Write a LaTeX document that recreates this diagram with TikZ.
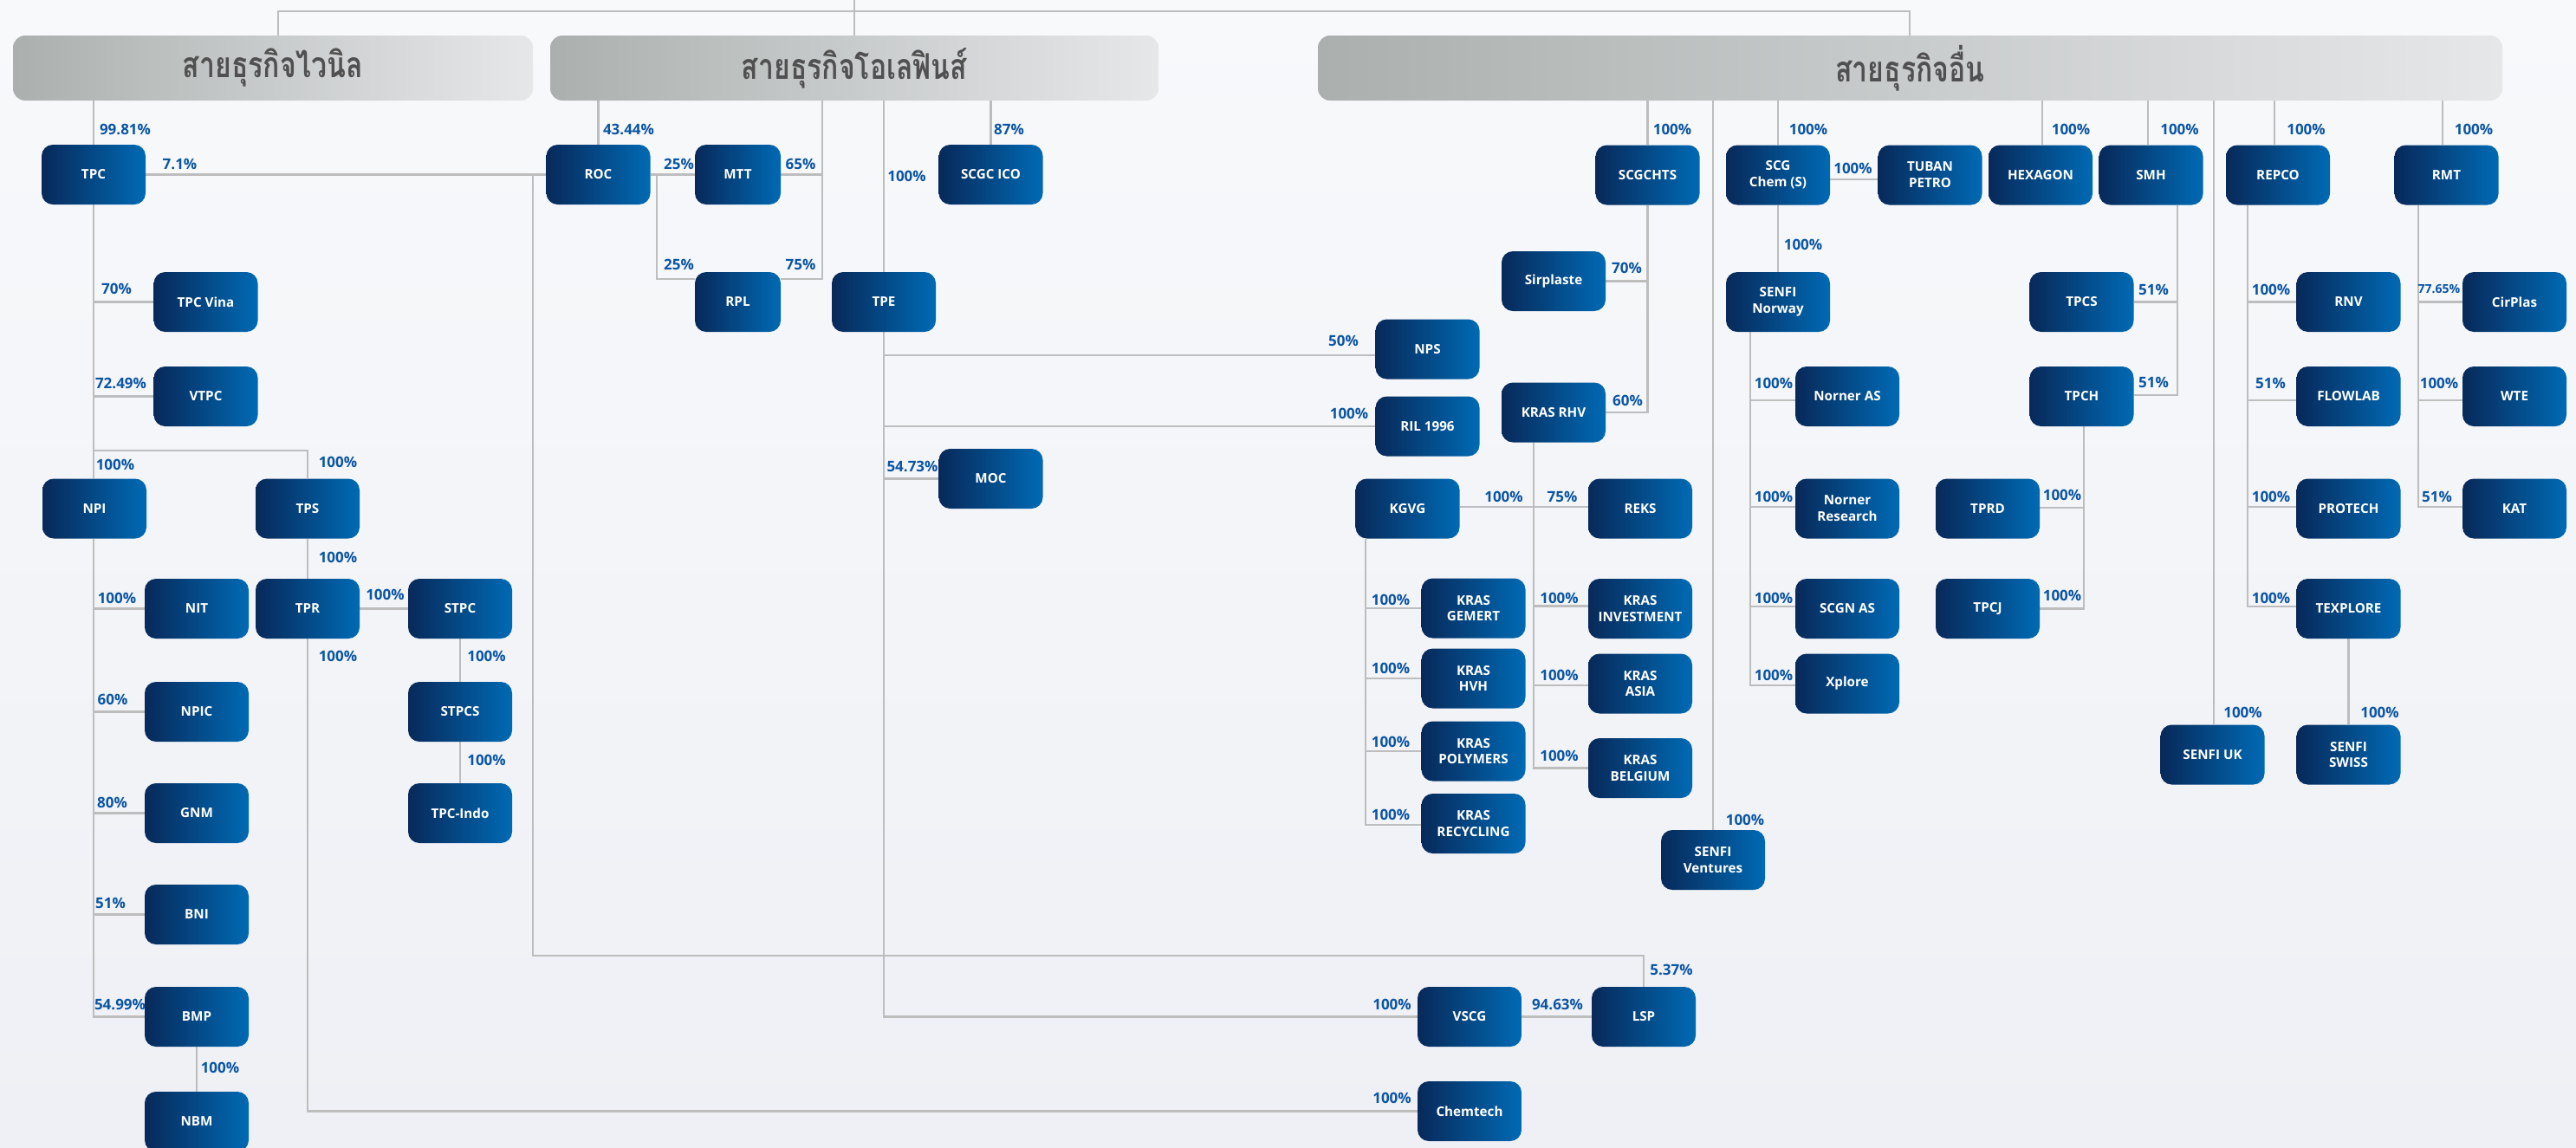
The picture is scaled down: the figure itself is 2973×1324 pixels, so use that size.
\documentclass[tikz,border=0pt]{standalone}
\usepackage{fontspec}
\setmainfont{Open Sans}
\newfontfamily\thaifont[Script=Thai,FakeStretch=0.78]{Loma}
\usetikzlibrary{calc}
\definecolor{boxL}{HTML}{08295A}
\definecolor{boxR}{HTML}{006AB4}
\definecolor{pctC}{HTML}{0B55A3}
\definecolor{lnC}{HTML}{BDBDBD}
\definecolor{hdrL}{HTML}{ABB0AE}
\definecolor{hdrR}{HTML}{E6E7E9}
\definecolor{hdrT}{HTML}{505050}
\definecolor{bgT}{HTML}{F8F9FB}
\definecolor{bgB}{HTML}{EEF0F5}
\pgfdeclarelayer{back}\pgfdeclarelayer{bg}\pgfsetlayers{back,bg,main}
\tikzset{
  cbox/.style={rounded corners=6.5pt, minimum width=60pt, minimum height=34.5pt, inner sep=0pt,
    left color=boxL, right color=boxR, draw=none, text=white, align=center,
    font=\bfseries\fontsize{7.6}{9.4}\selectfont},
  nbox/.style={cbox, minimum width=49.5pt},
  pct/.style={text=pctC, font=\bfseries\fontsize{8.5}{10}\selectfont, inner sep=0pt},
  pcts/.style={pct, font=\bfseries\fontsize{7}{8}\selectfont},
  ln/.style={draw=lnC, line width=1.1pt},
  hdr/.style={rounded corners=7pt, minimum height=37.5pt, inner sep=0pt, draw=none,
    left color=hdrL, right color=hdrR, text=hdrT,
    font=\thaifont\bfseries\fontsize{20.5}{24}\selectfont}
}
\begin{document}
\begin{tikzpicture}[x=0.5pt,y=-0.5pt]
\useasboundingbox (0,0) rectangle (2973,1324);
\begin{pgfonlayer}{back}
\fill[top color=bgT, bottom color=bgB] (0,0) rectangle (2973,1324);
\end{pgfonlayer}

% headers
\node[hdr, minimum width=300pt] (h1) at (315,78.5) {สายธุรกิจไวนิล};
\node[hdr, minimum width=351pt] (h2) at (986,78.5) {สายธุรกิจโอเลฟินส์};
\node[hdr, minimum width=683.5pt] (h3) at (2204.5,78.5) {สายธุรกิจอื่น};

% vinyl
\node[cbox] (tpc) at (108,201.5) {TPC};
\node[cbox] (tpcvina) at (237.5,348.5) {TPC Vina};
\node[cbox] (vtpc) at (237.5,457.5) {VTPC};
\node[cbox] (npi) at (109,587) {NPI};
\node[cbox] (tps) at (355,587) {TPS};
\node[cbox] (nit) at (227,702.5) {NIT};
\node[cbox] (tpr) at (355,702.5) {TPR};
\node[cbox] (stpc) at (531,702.5) {STPC};
\node[cbox] (npic) at (227,821.5) {NPIC};
\node[cbox] (stpcs) at (531,821.5) {STPCS};
\node[cbox] (gnm) at (227,938.5) {GNM};
\node[cbox] (tpcindo) at (531,938.5) {TPC-Indo};
\node[cbox] (bni) at (227,1055.5) {BNI};
\node[cbox] (bmp) at (227,1173.5) {BMP};
\node[cbox] (nbm) at (227,1294.5) {NBM};

% olefins
\node[cbox] (roc) at (690.5,201.5) {ROC};
\node[nbox] (mtt) at (851.5,201.5) {MTT};
\node[nbox] (rpl) at (851.5,348.5) {RPL};
\node[cbox] (scgcico) at (1143.5,201.5) {SCGC ICO};
\node[cbox] (tpe) at (1020,348.5) {TPE};
\node[cbox] (moc) at (1143.5,552.5) {MOC};
\node[cbox] (nps) at (1647.5,403) {NPS};
\node[cbox] (ril) at (1647.5,492) {RIL 1996};
\node[cbox] (vscg) at (1696,1173.5) {VSCG};
\node[cbox] (lsp) at (1897,1173.5) {LSP};
\node[cbox] (chemtech) at (1696,1282.5) {Chemtech};

% others
\node[cbox] (scgchts) at (1901.5,202) {SCGCHTS};
\node[cbox] (sirplaste) at (1793,324.5) {Sirplaste};
\node[cbox] (krasrhv) at (1793,476) {KRAS RHV};
\node[cbox] (kgvg) at (1624.5,587) {KGVG};
\node[cbox] (reks) at (1893,587) {REKS};
\node[cbox] (gemert) at (1700.5,702) {KRAS\\GEMERT};
\node[cbox] (investment) at (1893,702.5) {KRAS\\INVESTMENT};
\node[cbox] (hvh) at (1700.5,783) {KRAS\\HVH};
\node[cbox] (asia) at (1893,789) {KRAS\\ASIA};
\node[cbox] (polymers) at (1700.5,867) {KRAS\\POLYMERS};
\node[cbox] (belgium) at (1893,886.5) {KRAS\\BELGIUM};
\node[cbox] (recycling) at (1700.5,950.5) {KRAS\\RECYCLING};
\node[cbox] (ventures) at (1977,992.5) {SENFI\\Ventures};
\node[cbox] (scgchem) at (2052,202) {SCG\\Chem (S)};
\node[cbox] (tuban) at (2227.5,202) {TUBAN\\PETRO};
\node[cbox] (hexagon) at (2355,202) {HEXAGON};
\node[cbox] (smh) at (2482.5,202) {SMH};
\node[cbox] (repco) at (2629,202) {REPCO};
\node[cbox] (rmt) at (2823.5,202) {RMT};
\node[cbox] (senfinorway) at (2052,348.5) {SENFI\\Norway};
\node[cbox] (tpcs) at (2402.5,348.5) {TPCS};
\node[cbox] (tpch) at (2402.5,457.5) {TPCH};
\node[cbox] (rnv) at (2710.5,348.5) {RNV};
\node[cbox] (cirplas) at (2902,348.5) {CirPlas};
\node[cbox] (norneras) at (2132,457.5) {Norner AS};
\node[cbox] (flowlab) at (2710.5,457.5) {FLOWLAB};
\node[cbox] (wte) at (2902,457.5) {WTE};
\node[cbox] (nornerres) at (2132,587) {Norner\\Research};
\node[cbox] (tprd) at (2294,587) {TPRD};
\node[cbox] (protech) at (2710.5,587) {PROTECH};
\node[cbox] (kat) at (2902,587) {KAT};
\node[cbox] (scgnas) at (2132,702.5) {SCGN AS};
\node[cbox] (tpcj) at (2294,702.5) {TPCJ};
\node[cbox] (texplore) at (2710.5,702.5) {TEXPLORE};
\node[cbox] (xplore) at (2132,789) {Xplore};
\node[cbox] (senfiuk) at (2553.5,871) {SENFI UK};
\node[cbox] (senfiswiss) at (2710.5,871) {SENFI\\SWISS};

% percentage labels
\node[pct] (p1) at (144.5,149) {99.81\%};
\node[pct] (p2) at (207.5,189) {7.1\%};
\node[pct] (p3) at (134.5,333.5) {70\%};
\node[pct] (p4) at (139.5,442) {72.49\%};
\node[pct] (p5) at (133,536.5) {100\%};
\node[pct] (p6) at (390,533.5) {100\%};
\node[pct] (p7) at (390,643) {100\%};
\node[pct] (p8) at (135,690) {100\%};
\node[pct] (p9) at (444.5,686) {100\%};
\node[pct] (p10) at (390,757.5) {100\%};
\node[pct] (p11) at (561.5,757.5) {100\%};
\node[pct] (p12) at (130,807) {60\%};
\node[pct] (p13) at (561.5,877.5) {100\%};
\node[pct] (p14) at (129.5,926.5) {80\%};
\node[pct] (p15) at (127.5,1042.5) {51\%};
\node[pct] (p16) at (138.5,1159.5) {54.99\%};
\node[pct] (p17) at (254,1232.5) {100\%};
\node[pct] (p18) at (725.5,149) {43.44\%};
\node[pct] (p19) at (783.5,189) {25\%};
\node[pct] (p20) at (783.5,305.5) {25\%};
\node[pct] (p21) at (924,189) {65\%};
\node[pct] (p22) at (924,305.5) {75\%};
\node[pct] (p23) at (1046.5,203) {100\%};
\node[pct] (p24) at (1164.5,149) {87\%};
\node[pct] (p25) at (1550.5,393) {50\%};
\node[pct] (p26) at (1557,477) {100\%};
\node[pct] (p27) at (1053,538) {54.73\%};
\node[pct] (p28) at (1606.5,1159.5) {100\%};
\node[pct] (p29) at (1797.5,1159.5) {94.63\%};
\node[pct] (p30) at (1929,1119.5) {5.37\%};
\node[pct] (p31) at (1606.5,1267.5) {100\%};
\node[pct] (p32) at (1930,149) {100\%};
\node[pct] (p33) at (1877.5,309.5) {70\%};
\node[pct] (p34) at (1878.5,462.5) {60\%};
\node[pct] (p35) at (1735.5,573) {100\%};
\node[pct] (p36) at (1803,573) {75\%};
\node[pct] (p37) at (1605,692) {100\%};
\node[pct] (p38) at (1799.5,690.5) {100\%};
\node[pct] (p39) at (1605,771) {100\%};
\node[pct] (p40) at (1799.5,779.5) {100\%};
\node[pct] (p41) at (1605,856) {100\%};
\node[pct] (p42) at (1799.5,872) {100\%};
\node[pct] (p43) at (1605,940.5) {100\%};
\node[pct] (p44) at (2014,946.5) {100\%};
\node[pct] (p45) at (2087,149) {100\%};
\node[pct] (p46) at (2138.5,194.5) {100\%};
\node[pct] (p47) at (2390,149) {100\%};
\node[pct] (p48) at (2515.5,149) {100\%};
\node[pct] (p49) at (2661.5,149) {100\%};
\node[pct] (p50) at (2855,149) {100\%};
\node[pct] (p51) at (2081,282.5) {100\%};
\node[pct] (p52) at (2485.5,334) {51\%};
\node[pct] (p53) at (2485.5,441) {51\%};
\node[pct] (p54) at (2621,334) {100\%};
\node[pcts] (p55) at (2815,334) {77.65\%};
\node[pct] (p56) at (2047,442) {100\%};
\node[pct] (p57) at (2620.5,442) {51\%};
\node[pct] (p58) at (2815,442) {100\%};
\node[pct] (p59) at (2047,573) {100\%};
\node[pct] (p60) at (2380,571.5) {100\%};
\node[pct] (p61) at (2621,573) {100\%};
\node[pct] (p62) at (2812.5,573) {51\%};
\node[pct] (p63) at (2047,690.5) {100\%};
\node[pct] (p64) at (2380,687) {100\%};
\node[pct] (p65) at (2621,690.5) {100\%};
\node[pct] (p66) at (2047,779.5) {100\%};
\node[pct] (p67) at (2588.5,822.5) {100\%};
\node[pct] (p68) at (2746.5,822.5) {100\%};

% connectors
\begin{pgfonlayer}{bg}
\coordinate (trunk) at (986,0);
\coordinate (topL) at (321,13);
\coordinate (topR) at (2204,13);
\draw[ln] (trunk) -- (h2.north);
\draw[ln] (h1.north -| topL) -- (topL) -- (topR) -- (h3.north -| topR);

% vinyl
\draw[ln] (tpc.north) -- (tpc.north |- h1.south);
\draw[ln] (tpc.east) -- (roc.west);
\coordinate (j615) at (615,201.5);
\coordinate (c615) at (615,1103);
\draw[ln] (j615) -- (c615) -| (lsp.north);
\draw[ln] (tpc.south) -- (tpc.south |- npi.north);
\draw[ln] (tpcvina.west) -- (tpcvina.west -| tpc.south);
\draw[ln] (vtpc.west) -- (vtpc.west -| tpc.south);
\coordinate (jtps) at (108,520);
\draw[ln] (jtps) -| (tps.north);
\draw[ln] (npi.south -| tpc.south) |- (bmp.west);
\draw[ln] (nit.west) -- (nit.west -| tpc.south);
\draw[ln] (npic.west) -- (npic.west -| tpc.south);
\draw[ln] (gnm.west) -- (gnm.west -| tpc.south);
\draw[ln] (bni.west) -- (bni.west -| tpc.south);
\draw[ln] (tps.south) -- (tpr.north);
\draw[ln] (tpr.east) -- (stpc.west);
\draw[ln] (tpr.south) |- (chemtech.west);
\draw[ln] (stpc.south) -- (stpcs.north);
\draw[ln] (stpcs.south) -- (tpcindo.north);
\draw[ln] (bmp.south) -- (nbm.north);

% olefins
\draw[ln] (roc.north) -- (roc.north |- h2.south);
\draw[ln] (roc.east) -- (mtt.west);
\coordinate (j758) at (758,201.5);
\coordinate (rplL) at ($(rpl.north west)+(0,8)$);
\draw[ln] (j758) |- (rplL);
\coordinate (j949) at (949,116);
\coordinate (rplR) at ($(rpl.north east)+(0,8)$);
\draw[ln] (j949) |- (rplR);
\draw[ln] (mtt.east) -- (mtt.east -| j949);
\coordinate (t1020) at (1020,116);
\draw[ln] (t1020) -- (tpe.north);
\draw[ln] (tpe.south) |- (vscg.west);
\coordinate (npsA) at ($(nps.west)+(0,7)$);
\draw[ln] (npsA) -- (npsA -| tpe.south);
\draw[ln] (ril.west) -- (ril.west -| tpe.south);
\draw[ln] (moc.west) -- (moc.west -| tpe.south);
\draw[ln] (scgcico.north) -- (scgcico.north |- h2.south);
\draw[ln] (vscg.east) -- (lsp.west);

% others
\draw[ln] (scgchts.north) -- (scgchts.north |- h3.south);
\draw[ln] (scgchts.south) |- (krasrhv.east);
\draw[ln] (sirplaste.east) -- (sirplaste.east -| scgchts.south);
\coordinate (rhvB) at ($(krasrhv.south)+(-23,0)$);
\draw[ln] (rhvB) |- (belgium.west);
\draw[ln] ($(investment.west)+(0,-3)$) -- ($(investment.west -| rhvB)+(0,-3)$);
\draw[ln] ($(asia.west)+(0,2)$) -- ($(asia.west -| rhvB)+(0,2)$);
\draw[ln] ($(kgvg.east)+(0,-2)$) -- ($(reks.west)+(0,-2)$);
\coordinate (kgB) at ($(kgvg.south)+(-48.5,0)$);
\draw[ln] (kgB) |- ($(recycling.west)+(0,1.5)$);
\draw[ln] (gemert.west) -- (gemert.west -| kgB);
\draw[ln] (hvh.west) -- (hvh.west -| kgB);
\draw[ln] (polymers.west) -- (polymers.west -| kgB);
\draw[ln] (ventures.north) -- (ventures.north |- h3.south);
\draw[ln] (scgchem.north) -- (scgchem.north |- h3.south);
\draw[ln] ($(scgchem.east)+(0,5)$) -- ($(tuban.west)+(0,5)$);
\draw[ln] (scgchem.south) -- (senfinorway.north);
\coordinate (snB) at ($(senfinorway.south)+(-32,0)$);
\draw[ln] (snB) |- ($(xplore.west)+(0,2)$);
\draw[ln] ($(norneras.west)+(0,4.5)$) -- ($(norneras.west -| snB)+(0,4.5)$);
\draw[ln] ($(nornerres.west)+(0,-2)$) -- ($(nornerres.west -| snB)+(0,-2)$);
\draw[ln] ($(scgnas.west)+(0,-2.5)$) -- ($(scgnas.west -| snB)+(0,-2.5)$);
\draw[ln] ($(hexagon.north)+(2,0)$) -- ($(hexagon.north |- h3.south)+(2,0)$);
\draw[ln] ($(smh.north)+(-3.5,0)$) -- ($(smh.north |- h3.south)+(-3.5,0)$);
\coordinate (smhB) at ($(smh.south)+(30.5,0)$);
\draw[ln] (smhB) |- ($(tpch.east)+(0,-1.5)$);
\draw[ln] (tpcs.east) -- (tpcs.east -| smhB);
\coordinate (tpchB) at ($(tpch.south)+(2.5,0)$);
\draw[ln] (tpchB) |- (tpcj.east);
\draw[ln] ($(tprd.east)+(0,-1)$) -- ($(tprd.east -| tpchB)+(0,-1)$);
\draw[ln] ($(senfiuk.north)+(1.5,0)$) -- ($(senfiuk.north |- h3.south)+(1.5,0)$);
\draw[ln] ($(repco.north)+(-4,0)$) -- ($(repco.north |- h3.south)+(-4,0)$);
\coordinate (repB) at ($(repco.south)+(-35,0)$);
\draw[ln] (repB) |- ($(texplore.west)+(0,-2.5)$);
\draw[ln] (rnv.west) -- (rnv.west -| repB);
\draw[ln] ($(flowlab.west)+(0,4.5)$) -- ($(flowlab.west -| repB)+(0,4.5)$);
\draw[ln] ($(protech.west)+(0,-2)$) -- ($(protech.west -| repB)+(0,-2)$);
\draw[ln] (texplore.south) -- (senfiswiss.north);
\draw[ln] ($(rmt.north)+(-4.5,0)$) -- ($(rmt.north |- h3.south)+(-4.5,0)$);
\coordinate (rmtB) at ($(rmt.south)+(-32.5,0)$);
\draw[ln] (rmtB) |- ($(kat.west)+(0,-2)$);
\draw[ln] (cirplas.west) -- (cirplas.west -| rmtB);
\draw[ln] ($(wte.west)+(0,4.5)$) -- ($(wte.west -| rmtB)+(0,4.5)$);
\end{pgfonlayer}
\end{tikzpicture}
\end{document}
